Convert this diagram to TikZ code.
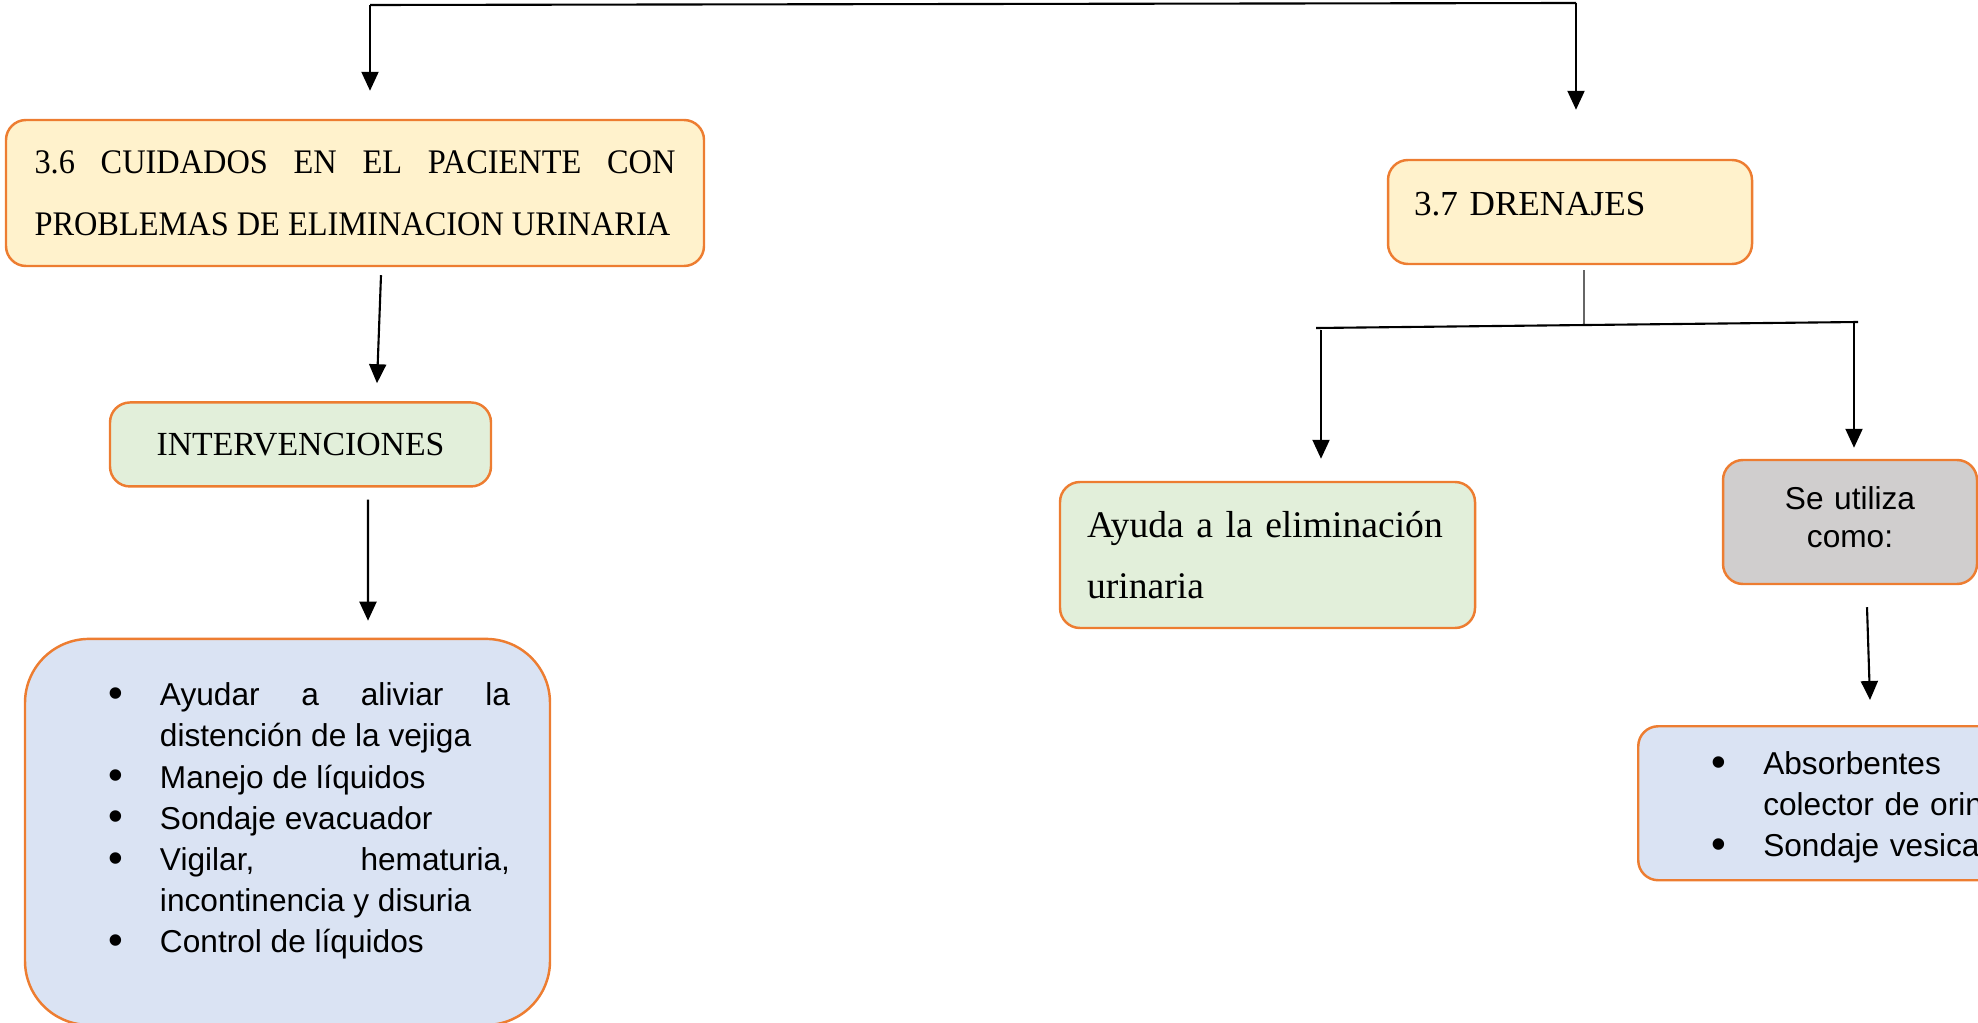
\documentclass[tikz,border=0pt]{standalone}
\usepackage{fontspec}
\setmainfont{Liberation Serif}
\newfontfamily\titlefont[FakeStretch=0.94]{Liberation Serif}
\newfontfamily\arialfont{Liberation Sans}
\usepackage{enumitem}
\setlist[itemize]{label={\raisebox{-0.5pt}{\fontsize{12}{12}\selectfont\textbullet}},leftmargin=0.95cm,labelsep=0.37cm,itemsep=0pt,parsep=0pt,topsep=0pt,partopsep=0pt}
\newcommand{\padbelow}[1]{\par\kern#1\hrule height0pt width0pt}
\usetikzlibrary{positioning,calc,arrows.meta}
\definecolor{boxorange}{HTML}{ED7D31}
\definecolor{boxyellow}{HTML}{FFF2CC}
\definecolor{boxgreen}{HTML}{E2EFDA}
\definecolor{boxblue}{HTML}{DAE3F3}
\definecolor{boxgray}{HTML}{D0CECE}
\hyphenpenalty=10000
\begin{document}
\begin{tikzpicture}
[
box/.style={rectangle, draw=boxorange, line width=0.7pt, rounded corners=0.2cm, inner ysep=0pt},
title/.style={box, fill=boxyellow, font=\titlefont\fontsize{9.8}{17.6}\selectfont},
greenbox/.style={box, fill=boxgreen},
listbox/.style={box, fill=boxblue, align=justify, font=\arialfont\fontsize{9}{11.7}\selectfont},
graybox/.style={box, fill=boxgray, align=center, font=\arialfont\fontsize{9}{10.8}\selectfont},
arr/.style={-{Triangle[length=0.19cm,width=0.17cm]}, line width=0.6pt},
bar/.style={line width=0.6pt},
stem/.style={line width=0.6pt, draw=black!60}
]
\useasboundingbox (0,0) rectangle (19.78,-10.22);
\clip (0,0) rectangle (19.78,-10.22);

%Nodes
\node[title, text width=6.41cm, inner xsep=0.285cm, minimum height=1.46cm, align=justify] (cuid) at (3.55,-1.93)
  {3.6 CUIDADOS EN EL PACIENTE CON\linebreak PROBLEMAS DE ELIMINACION URINARIA};
\node[greenbox, minimum width=3.81cm, minimum height=0.84cm, font=\fontsize{9.6}{12}\selectfont] (interv) [below=1.34cm of cuid, xshift=-0.545cm] {INTERVENCIONES};
\node[listbox, text width=4.45cm, inner xsep=0.40cm, minimum height=3.86cm, rounded corners=0.64cm] (lista) [below=1.50cm of interv, xshift=-0.13cm]
  {\begin{itemize}
   \item Ayudar a aliviar la\linebreak distención de la vejiga
   \item Manejo de líquidos
   \item Sondaje evacuador
   \item Vigilar, hematuria,\linebreak incontinencia y disuria
   \item Control de líquidos
   \end{itemize}\padbelow{0.4cm}};

\node[title, text width=3.12cm, inner xsep=0.26cm, minimum height=1.04cm, align=left, font=\fontsize{10}{12}\selectfont, text depth=0.17cm] (dren) at (15.70,-2.12) {3.7 DRENAJES};
\node[greenbox, text width=3.61cm, inner xsep=0.27cm, minimum height=1.46cm, align=left, font=\fontsize{10.7}{17.4}\selectfont] (ayuda) at (12.675,-5.55)
  {Ayuda a la eliminación\\urinaria};
\node[graybox, text width=2.14cm, inner xsep=0.20cm, minimum height=1.24cm] (utiliza) at (18.50,-5.22) {Se utiliza\\como:\padbelow{0.1cm}};
\node[listbox, text width=3.6cm, inner xsep=0.30cm, minimum height=1.54cm, anchor=north west, align=left] (sondas) at (16.37,-7.25)
  {\begin{itemize}
   \item Absorbentes\\colector de orina
   \item Sondaje vesical
   \end{itemize}\padbelow{0.1cm}};

\coordinate (topL) at (3.70,-0.05);
\coordinate (topR) at (15.76,-0.03);
\coordinate (brL) at (13.16,-3.28);
\coordinate (brR) at (18.58,-3.22);
\coordinate (brM) at (15.84,-3.25);
\coordinate (brA) at (13.21,-3.30);
\coordinate (brB) at (18.54,-3.23);

%Lines
\draw[bar] (topL) -- (topR);
\draw[arr] (topL) -- ($(topL |- cuid.north)+(0,0.28)$);
\draw[arr] (topR) -- ($(topR |- dren.north)+(0,0.49)$);
\draw[arr] ($(cuid.south)+(0.26,-0.08)$) -- ($(interv.north)+(0.765,0.18)$);
\draw[arr] ($(interv.south)+(0.675,-0.12)$) -- ($(lista.north)+(0.805,0.17)$);

\draw[stem] ($(brM |- dren.south)+(0,-0.05)$) -- (brM);
\draw[bar] (brL) -- (brR);
\draw[arr, shorten >=0.22cm] (brA) -- (brA |- ayuda.north);
\draw[arr, shorten >=0.11cm] (brB) -- (brB |- utiliza.north);
\draw[arr] ($(utiliza.south)+(0.17,-0.22)$) -- ($(utiliza.south |- sondas.north)+(0.20,0.25)$);

\end{tikzpicture}
\end{document}
